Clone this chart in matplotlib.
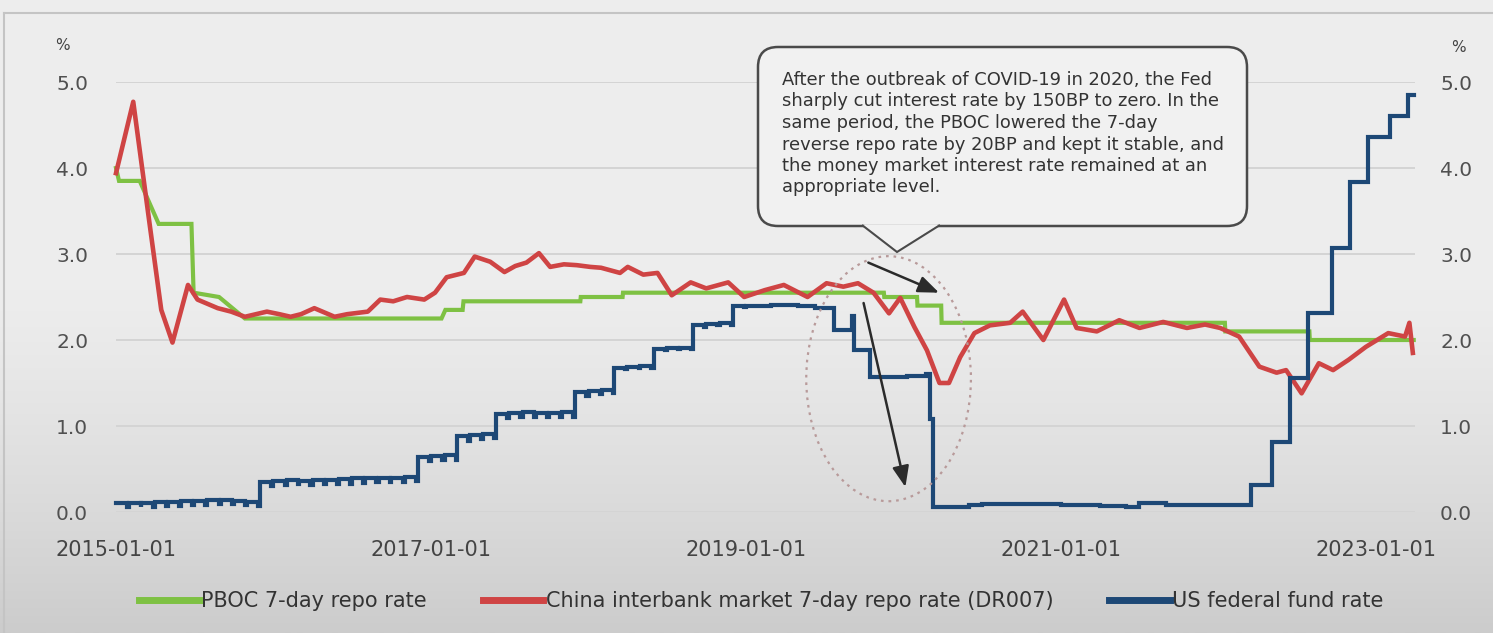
import numpy as np
import pandas as pd
import matplotlib
matplotlib.use("Agg")
import matplotlib.pyplot as plt
import matplotlib.dates as mdates
from matplotlib.patches import FancyBboxPatch, Ellipse, Polygon
from matplotlib.lines import Line2D

# ---------------- data ----------------
# PBOC 7-day reverse repo rate (policy rate path)
pboc_dates = ["2015-01-01", "2015-01-08", "2015-02-25", "2015-04-10", "2015-06-25",
              "2015-06-30", "2015-08-28", "2015-10-27", "2017-01-25", "2017-02-03",
              "2017-03-15", "2017-03-17", "2017-12-13", "2017-12-14", "2018-03-21",
              "2018-03-22", "2019-11-17", "2019-11-18", "2020-02-02", "2020-02-03",
              "2020-03-29", "2020-03-30", "2022-01-16", "2022-01-17", "2022-07-31",
              "2022-08-01", "2023-03-30"]
pboc_values = [4.00, 3.85, 3.85, 3.35, 3.35,
               2.55, 2.50, 2.25, 2.25, 2.35,
               2.35, 2.45, 2.45, 2.50, 2.50,
               2.55, 2.55, 2.50, 2.50, 2.40,
               2.40, 2.20, 2.20, 2.10, 2.10,
               2.00, 2.00]

# DR007
dr007_dates = ["2015-01-01", "2015-02-10", "2015-03-21", "2015-04-16", "2015-05-12",
               "2015-06-17", "2015-07-09", "2015-08-25", "2015-09-25", "2015-10-27",
               "2015-12-17", "2016-01-15", "2016-02-10", "2016-03-05", "2016-04-05",
               "2016-05-22", "2016-06-20", "2016-08-07", "2016-09-05", "2016-10-05",
               "2016-11-06", "2016-12-16", "2017-01-10", "2017-02-06", "2017-03-18",
               "2017-04-12", "2017-05-18", "2017-06-20", "2017-07-15", "2017-08-10",
               "2017-09-08", "2017-10-04", "2017-11-05", "2017-12-05", "2018-01-05",
               "2018-01-30", "2018-03-15", "2018-04-02", "2018-05-08", "2018-06-10",
               "2018-07-13", "2018-08-26", "2018-10-01", "2018-11-21", "2018-12-28",
               "2019-02-14", "2019-03-30", "2019-05-24", "2019-07-07", "2019-08-15",
               "2019-09-18", "2019-10-24", "2019-11-29", "2019-12-25", "2020-01-27",
               "2020-02-25", "2020-03-25", "2020-04-16", "2020-05-12", "2020-06-14",
               "2020-07-20", "2020-09-05", "2020-10-04", "2020-11-21", "2021-01-08",
               "2021-02-06", "2021-03-25", "2021-05-16", "2021-07-02", "2021-08-26",
               "2021-10-20", "2021-12-01", "2022-01-05", "2022-02-18", "2022-04-06",
               "2022-05-16", "2022-06-07", "2022-07-13", "2022-08-22", "2022-09-24",
               "2022-10-30", "2022-12-09", "2023-01-30", "2023-03-10", "2023-03-20",
               "2023-03-28"]
dr007_values = [3.94, 4.77, 3.31, 2.35, 1.97,
                2.64, 2.47, 2.37, 2.33, 2.27,
                2.33, 2.30, 2.27, 2.30, 2.37,
                2.27, 2.30, 2.33, 2.47, 2.45,
                2.50, 2.47, 2.55, 2.73, 2.78,
                2.97, 2.91, 2.79, 2.86, 2.90,
                3.01, 2.85, 2.88, 2.87, 2.85,
                2.84, 2.78, 2.85, 2.76, 2.78,
                2.52, 2.67, 2.60, 2.67, 2.50,
                2.58, 2.64, 2.50, 2.66, 2.62,
                2.66, 2.55, 2.31, 2.49, 2.15,
                1.88, 1.50, 1.50, 1.80, 2.08,
                2.17, 2.20, 2.33, 2.00, 2.47,
                2.14, 2.10, 2.23, 2.14, 2.21,
                2.14, 2.18, 2.14, 2.04, 1.69,
                1.62, 1.65, 1.38, 1.73, 1.65,
                1.77, 1.92, 2.08, 2.04, 2.20,
                1.85]

# US effective federal funds rate, 2015-2018: monthly level and month-end value
fed_level_2015_2018 = [0.11, 0.11, 0.11, 0.12, 0.12, 0.13, 0.13, 0.14, 0.14, 0.13, 0.12, 0.35,
                       0.36, 0.37, 0.36, 0.37, 0.37, 0.38, 0.39, 0.40, 0.40, 0.40, 0.41, 0.64,
                       0.65, 0.66, 0.88, 0.90, 0.91, 1.14, 1.15, 1.16, 1.15, 1.15, 1.16, 1.40,
                       1.41, 1.42, 1.68, 1.69, 1.70, 1.90, 1.91, 1.91, 2.17, 2.19, 2.20, 2.40]
fed_monthend_2015_2018 = [0.06, 0.06, 0.06, 0.07, 0.07, 0.08, 0.08, 0.09, 0.09, 0.08, 0.07, 0.30,
                          0.31, 0.32, 0.31, 0.32, 0.32, 0.33, 0.34, 0.35, 0.35, 0.35, 0.36, 0.59,
                          0.60, 0.61, 0.83, 0.85, 0.86, 1.09, 1.10, 1.11, 1.10, 1.10, 1.11, 1.35,
                          1.37, 1.38, 1.66, 1.67, 1.68, 1.88, 1.89, 1.89, 2.15, 2.17, 2.18, 2.38]
# US effective federal funds rate from 2019 (value holds until next date)
fed_dates_2019_on = ["2019-01-01", "2019-03-01", "2019-05-01", "2019-06-10", "2019-07-25",
                     "2019-09-03", "2019-09-08", "2019-10-15", "2020-01-10", "2020-02-22",
                     "2020-03-04", "2020-03-10", "2020-06-01", "2020-07-01", "2021-01-01",
                     "2021-04-01", "2021-06-01", "2021-07-01", "2021-09-01", "2022-03-17",
                     "2022-05-05", "2022-06-16", "2022-07-28", "2022-09-22", "2022-11-03",
                     "2022-12-15", "2023-02-02", "2023-03-16", "2023-03-30"]
fed_values_2019_on = [2.40, 2.41, 2.40, 2.37, 2.12,
                      2.28, 1.88, 1.57, 1.58, 1.60,
                      1.08, 0.06, 0.08, 0.09, 0.08,
                      0.07, 0.06, 0.10, 0.08, 0.31,
                      0.81, 1.56, 2.31, 3.07, 3.84,
                      4.36, 4.60, 4.85, 4.85]

x_ticks = ["2015-01-01", "2017-01-01", "2019-01-01", "2021-01-01", "2023-01-01"]
y_ticks = [0.0, 1.0, 2.0, 3.0, 4.0, 5.0]

legend_labels = ["PBOC 7-day repo rate",
                 "China interbank market 7-day repo rate (DR007)",
                 "US federal fund rate"]

note_text = ("After the outbreak of COVID-19 in 2020, the Fed\n"
             "sharply cut interest rate by 150BP to zero. In the\n"
             "same period, the PBOC lowered the 7-day\n"
             "reverse repo rate by 20BP and kept it stable, and\n"
             "the money market interest rate remained at an\n"
             "appropriate level.")

# ---------------- build fed series ----------------
fed_x, fed_y = [], []
month_starts = pd.date_range("2015-01-01", periods=len(fed_level_2015_2018), freq="MS")
for ms, lvl, dip in zip(month_starts, fed_level_2015_2018, fed_monthend_2015_2018):
    fed_x += [ms, ms + pd.Timedelta(days=26)]
    fed_y += [lvl, dip]
fed_x += list(pd.to_datetime(fed_dates_2019_on))
fed_y += fed_values_2019_on

# ---------------- figure ----------------
W, H, DPI = 1493, 633, 100
fig = plt.figure(figsize=(W / DPI, H / DPI), dpi=DPI)

# soft grey background that darkens towards the bottom
bg = fig.add_axes([0, 0, 1, 1], zorder=-10)
rows = np.linspace(0, 1, 256)
top_c = np.array([0.93, 0.93, 0.93])
bot_c = np.array([0.80, 0.80, 0.80])
w = np.clip((rows - 0.45) / 0.55, 0, 1) ** 1.3
grad = top_c[None, :] * (1 - w[:, None]) + bot_c[None, :] * w[:, None]
bg.imshow(grad[:, None, :], aspect="auto", extent=[0, 1, 1, 0])
bg.set_xlim(0, 1)
bg.set_ylim(1, 0)
bg.axis("off")

def px(x, y):
    return (x / W, 1 - y / H)

# outer frame line
fig.add_artist(Line2D([4 / W, 1], [1 - 13 / H, 1 - 13 / H], color="#c4c4c4", lw=1.5,
                      transform=fig.transFigure))
fig.add_artist(Line2D([4 / W, 4 / W], [0, 1 - 13 / H], color="#c4c4c4", lw=1.5,
                      transform=fig.transFigure))

ax_l, ax_r = 116 / W, 1415 / W
ax_b, ax_t = 1 - 512 / H, 1 - 82 / H
ax = fig.add_axes([ax_l, ax_b, ax_r - ax_l, ax_t - ax_b])
ax.patch.set_alpha(0)

green = "#7ec143"
red = "#cf4444"
blue = "#1d4876"

ax.plot(pd.to_datetime(pboc_dates), pboc_values, color=green, lw=3.0, zorder=3,
        solid_joinstyle="miter", clip_on=False)
ax.plot(pd.to_datetime(dr007_dates), dr007_values, color=red, lw=3.3, zorder=4,
        solid_joinstyle="round", clip_on=False)
ax.plot(fed_x, fed_y, color=blue, lw=3.0, zorder=5, drawstyle="steps-post",
        solid_joinstyle="miter", clip_on=False)

ax.set_xlim(pd.Timestamp("2015-01-01"), pd.Timestamp("2023-04-02"))
ax.set_ylim(0, 5.0)
ax.set_yticks(y_ticks)
ax.set_yticklabels([f"{v:.1f}" for v in y_ticks])
ax.set_xticks(pd.to_datetime(x_ticks))
ax.set_xticklabels(x_ticks)
ax.grid(axis="y", color="#d4d4d4", lw=1.4, zorder=0)
for s in ax.spines.values():
    s.set_visible(False)
ax.tick_params(axis="both", length=0)
ax.tick_params(axis="y", labelsize=14.5, labelcolor="#505050", pad=20)
ax.tick_params(axis="x", labelsize=15, labelcolor="#444444", pad=20)

ax2 = ax.twinx()
ax2.set_ylim(0, 5.0)
ax2.set_yticks(y_ticks)
ax2.set_yticklabels([f"{v:.1f}" for v in y_ticks])
for s in ax2.spines.values():
    s.set_visible(False)
ax2.tick_params(axis="y", length=0, labelsize=14.5, labelcolor="#505050", pad=18)

fig.text(*px(62, 45), "%", fontsize=11, color="#444444", ha="center", va="center")
fig.text(*px(1458, 47), "%", fontsize=11, color="#444444", ha="center", va="center")

# ---------------- annotations ----------------
d = mdates.date2num
# Ellipse width is in days on the date axis
ell = Ellipse((d(pd.Timestamp("2019-11-28")), 1.55), width=382, height=2.85,
              fill=False, edgecolor="#b89a9a", lw=1.6, linestyle=(0, (1.2, 2.2)),
              zorder=6, transform=ax.transData)
ax.add_patch(ell)

arrow_kw = dict(arrowstyle="-|>,head_length=0.7,head_width=0.28", color="#2b2b2b",
                lw=1.8, mutation_scale=18, shrinkA=0, shrinkB=0)
ax.annotate("", xy=(pd.Timestamp("2020-03-24"), 2.55),
            xytext=(pd.Timestamp("2019-10-12"), 2.90), arrowprops=arrow_kw, zorder=7)
ax.annotate("", xy=(pd.Timestamp("2020-01-06"), 0.29),
            xytext=(pd.Timestamp("2019-10-01"), 2.43), arrowprops=arrow_kw, zorder=7)

# callout box (pixel geometry converted to inches)
def inch(x, y):
    return (x / DPI, (H - y) / DPI)

r = 0.2
bx0, by0 = inch(758, 226)
bx1, by1 = inch(1247, 47)
box = FancyBboxPatch((bx0 + r, by0 + r), (bx1 - bx0) - 2 * r, (by1 - by0) - 2 * r,
                     boxstyle=f"round,pad={r}", transform=fig.dpi_scale_trans,
                     facecolor="#f1f1f1", edgecolor="#4a4a4a", lw=1.8, zorder=20)
fig.add_artist(box)
tail = Polygon([inch(862, 225), inch(897, 252), inch(940, 225)], closed=False,
               transform=fig.dpi_scale_trans, facecolor="#f1f1f1",
               edgecolor="#4a4a4a", lw=1.5, zorder=21)
fig.add_artist(tail)
cover = Polygon([inch(864, 224.4), inch(897, 250), inch(938, 224.4)], closed=True,
                transform=fig.dpi_scale_trans, facecolor="#f1f1f1",
                edgecolor="none", zorder=22)
fig.add_artist(cover)
fig.text(*px(782, 71), note_text, fontsize=12.9, color="#333333", ha="left", va="top",
         linespacing=1.25, zorder=25)

# ---------------- legend ----------------
handles = [Line2D([], [], color=green, lw=5),
           Line2D([], [], color=red, lw=5),
           Line2D([], [], color=blue, lw=5)]
fig.legend(handles, legend_labels, loc="center", bbox_to_anchor=px(761, 601),
           ncol=3, frameon=False, fontsize=15, handlelength=2.9, handletextpad=0.1,
           columnspacing=2.7, labelcolor="#333333")

fig.savefig("out.png", dpi=DPI)
